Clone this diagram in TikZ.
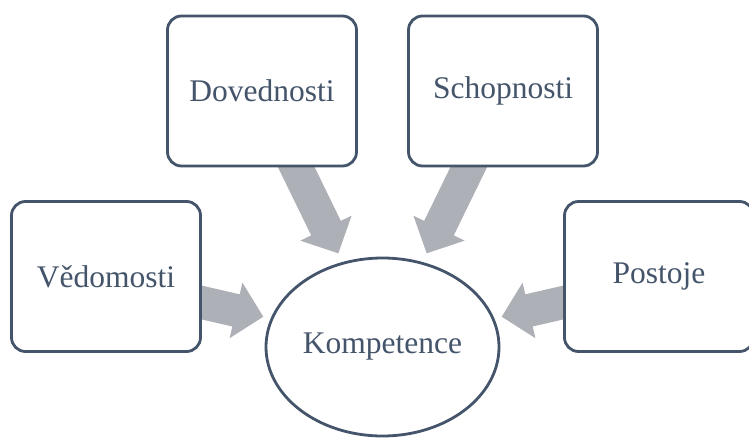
\documentclass[tikz,border=0pt]{standalone}
\usepackage{fontspec}
\setmainfont{Liberation Serif}
\usetikzlibrary{calc,shapes.geometric,backgrounds}
\definecolor{slate}{HTML}{44546A}
\definecolor{arrowgrey}{HTML}{ADB0B6}
\tikzset{
  box/.style={draw=slate, line width=2.8pt, fill=white, rounded corners=14pt,
    minimum width=189pt, minimum height=150pt, inner sep=0pt,
    text=slate, font=\fontsize{31.5}{36}\selectfont},
  oval/.style={ellipse, draw=slate, line width=2.8pt, fill=white,
    minimum width=233pt, minimum height=178pt, inner sep=0pt,
    text=slate, font=\fontsize{31.5}{36}\selectfont},
  blockfill/.style={fill=arrowgrey}
}
\newcommand\blockarrow[2]{%
  \coordinate (hb) at ($(#2)!28pt!(#1)$);
  \fill[blockfill] ($(#1)!16.5pt!90:(#2)$) -- ($(hb)!16.5pt!90:(#2)$) --
    ($(hb)!28.5pt!90:(#2)$) -- (#2) -- ($(hb)!28.5pt!-90:(#2)$) --
    ($(hb)!16.5pt!-90:(#2)$) -- ($(#1)!16.5pt!-90:(#2)$) -- cycle;}
\begin{document}
\begin{tikzpicture}[x=1pt,y=-1pt]
\useasboundingbox (0,0) rectangle (749,439);
\node[box] (ved) at (106,276.5) {Vědomosti};
\node[box] (dov) at (262,91) {Dovednosti};
\node[box] (sch) at (503,91) {Schopnosti};
\node[box] (pos) at (659,276.5) {Postoje};
\node[oval] (kom) at (382.5,347) {Kompetence};
\coordinate (s1) at (182.2,298);   \coordinate (t1) at (263.3,316.7);
\coordinate (s2) at (287.9,150);   \coordinate (t2) at (338.3,253.3);
\coordinate (s3) at (477.1,150);   \coordinate (t3) at (426.7,253.3);
\coordinate (s4) at (582.8,298);   \coordinate (t4) at (501.7,316.7);
\begin{pgfonlayer}{background}
\blockarrow{s1}{t1}
\blockarrow{s2}{t2}
\blockarrow{s3}{t3}
\blockarrow{s4}{t4}
\end{pgfonlayer}
\end{tikzpicture}
\end{document}
